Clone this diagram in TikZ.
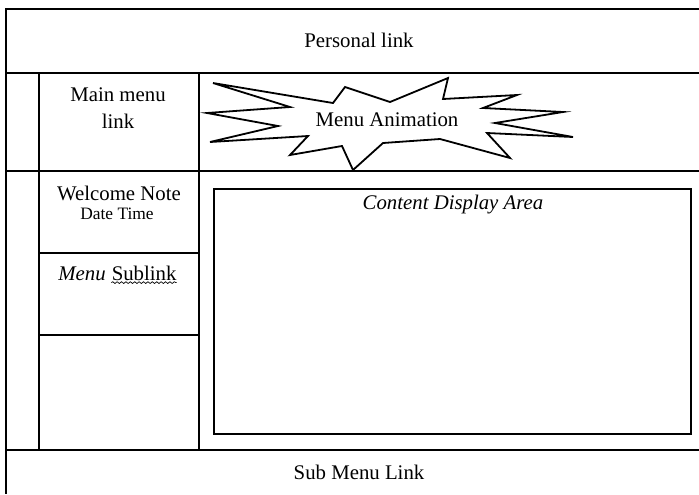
\documentclass[tikz,border=0pt]{standalone}
\usepackage{fontspec}
\setmainfont{Liberation Serif}
\usetikzlibrary{decorations.pathmorphing}
\begin{document}
\begin{tikzpicture}[x=0.5pt,y=-0.5pt,
  frame/.style={line width=1pt},
  burst/.style={line width=0.9pt, fill=white, line join=miter},
  lbl/.style={font=\fontsize{10.4}{13.5}\selectfont, inner sep=0pt},
  smalllbl/.style={font=\fontsize{8.7}{10}\selectfont, inner sep=0pt},
  squiggle/.style={decorate, decoration={snake, amplitude=0.45pt, segment length=2.2pt}, line width=0.35pt}]
\useasboundingbox (0,0) rectangle (699,494);

% page frame and row dividers
\draw[frame] (699,9) -- (6,9) -- (6,494);
\draw[frame] (6,73) -- (699,73);
\draw[frame] (6,171) -- (699,171);
\draw[frame] (6,450) -- (699,450);

% left menu column
\draw[frame] (39,73) -- (39,450);
\draw[frame] (199,73) -- (199,450);
\draw[frame] (39,253) -- (199,253);
\draw[frame] (39,335) -- (199,335);

% content display box
\draw[frame] (214,189) rectangle (691,434);

% explosion shape for the menu animation
\draw[burst] (213,83) -- (333,103) -- (345,87) -- (390,102) -- (448,78) -- (443,99)
  -- (517,95) -- (483,108) -- (563,112) -- (495,123) -- (573,137) -- (487,133)
  -- (510,158) -- (440,139) -- (383,143) -- (353,170) -- (342,146) -- (290,155)
  -- (308,136) -- (210,142) -- (278,126) -- (207,113) -- (290,107) -- cycle;

% labels
\node[lbl] (personal) at (359,40) {Personal link};
\node[lbl, align=center] (mainmenu) at (118,108) {Main menu\\link};
\node[lbl] (anim) at (387,120) {Menu Animation};
\node[lbl] (welcome) at (119,193) {Welcome Note};
\node[smalllbl] (datetime) at (117,214) {Date Time};
\node[lbl, anchor=base west] (menuw) at (58,280) {\itshape Menu};
\node[lbl, anchor=base west] (sublinkw) at ([xshift=2.6pt]menuw.base east) {Sublink};
\draw[squiggle] ([yshift=-1.3pt]sublinkw.base west) -- ([yshift=-1.3pt]sublinkw.base east);
\node[lbl, font=\fontsize{10.4}{13.5}\selectfont\itshape] (contentlbl) at (453,205) {Content Display Area};
\node[lbl] (submenu) at (359,472) {Sub Menu Link};
\end{tikzpicture}
\end{document}
